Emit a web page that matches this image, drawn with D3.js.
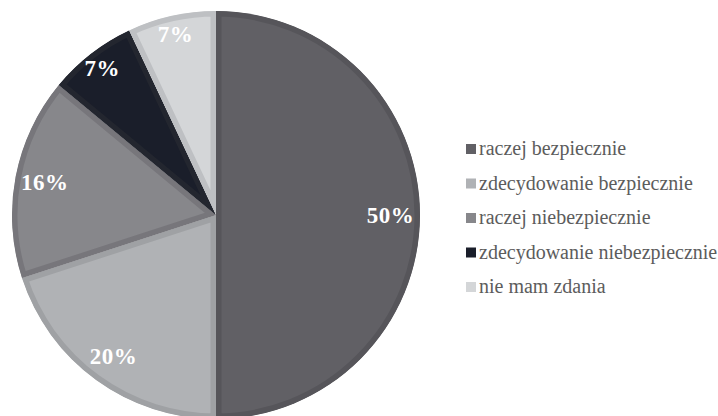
<!DOCTYPE html>
<html>
<head>
<meta charset="utf-8">
<script src="https://cdn.jsdelivr.net/npm/d3@7"></script>
<style>
  body { margin: 0; background: #fff; }
  svg { display: block; }
  text { font-family: "Times New Roman", "Liberation Serif", Times, serif; }
</style>
</head>
<body>
<svg id="chart"></svg>
<script>
// chart data
var categories = ["raczej bezpiecznie", "zdecydowanie bezpiecznie", "raczej niebezpiecznie", "zdecydowanie niebezpiecznie", "nie mam zdania"];
var values = [50, 20, 16, 7, 7];
var labels = ["50%", "20%", "16%", "7%", "7%"];

var fills = ["#616065", "#b0b2b5", "#87878b", "#1a1e2a", "#d4d6d8"];
var borders = ["#56555a", "#9fa1a4", "#77767b", "#23262f", "#bec0c3"];

var W = 718, H = 416;
var cx = 216, cy = 215, r = 204;

var svg = d3.select("#chart").attr("width", W).attr("height", H);

var pie = d3.pie().sort(null).value(function(d) { return d; });
var arcs = pie(values);
var arc = d3.arc().innerRadius(0).outerRadius(r);

var g = svg.append("g").attr("transform", "translate(" + cx + "," + cy + ")");

// clip each slice to itself so the border stroke sits inside
var defs = svg.append("defs");
arcs.forEach(function(d, i) {
    defs.append("clipPath").attr("id", "clip" + i)
        .append("path").attr("d", arc(d));
});

g.selectAll(".slice")
    .data(arcs)
    .enter().append("path")
    .attr("class", "slice")
    .attr("d", arc)
    .attr("clip-path", function(d, i) { return "url(#clip" + i + ")"; })
    .attr("fill", function(d, i) { return fills[i]; })
    .attr("stroke", function(d, i) { return borders[i]; })
    .attr("stroke-width", 11)
    .attr("stroke-linejoin", "miter");

// percentage labels, small slices pushed a bit further out
g.selectAll(".lbl")
    .data(arcs)
    .enter().append("text")
    .attr("class", "lbl")
    .attr("transform", function(d) {
        var lr = d.value < 10 ? r * 0.91 : r * 0.855;
        var a = (d.startAngle + d.endAngle) / 2;
        return "translate(" + (Math.sin(a) * lr) + "," + (-Math.cos(a) * lr) + ")";
    })
    .attr("text-anchor", "middle")
    .attr("dy", "0.35em")
    .attr("fill", "#fff")
    .style("font-weight", "bold")
    .style("font-size", "23px")
    .style("letter-spacing", "0.5px")
    .text(function(d, i) { return labels[i]; });

// legend
var legend = svg.append("g").attr("transform", "translate(466,149)");
var rowH = 34.5;
var item = legend.selectAll(".item")
    .data(categories)
    .enter().append("g")
    .attr("class", "item")
    .attr("transform", function(d, i) { return "translate(0," + (i * rowH) + ")"; });

item.append("rect")
    .attr("x", 0).attr("y", -5)
    .attr("width", 10).attr("height", 10)
    .attr("fill", function(d, i) { return fills[i]; });

item.append("text")
    .attr("x", 13)
    .attr("dy", "0.32em")
    .attr("fill", "#5c5c5c")
    .style("font-size", "20px")
    .text(function(d) { return d; });
</script>
</body>
</html>
